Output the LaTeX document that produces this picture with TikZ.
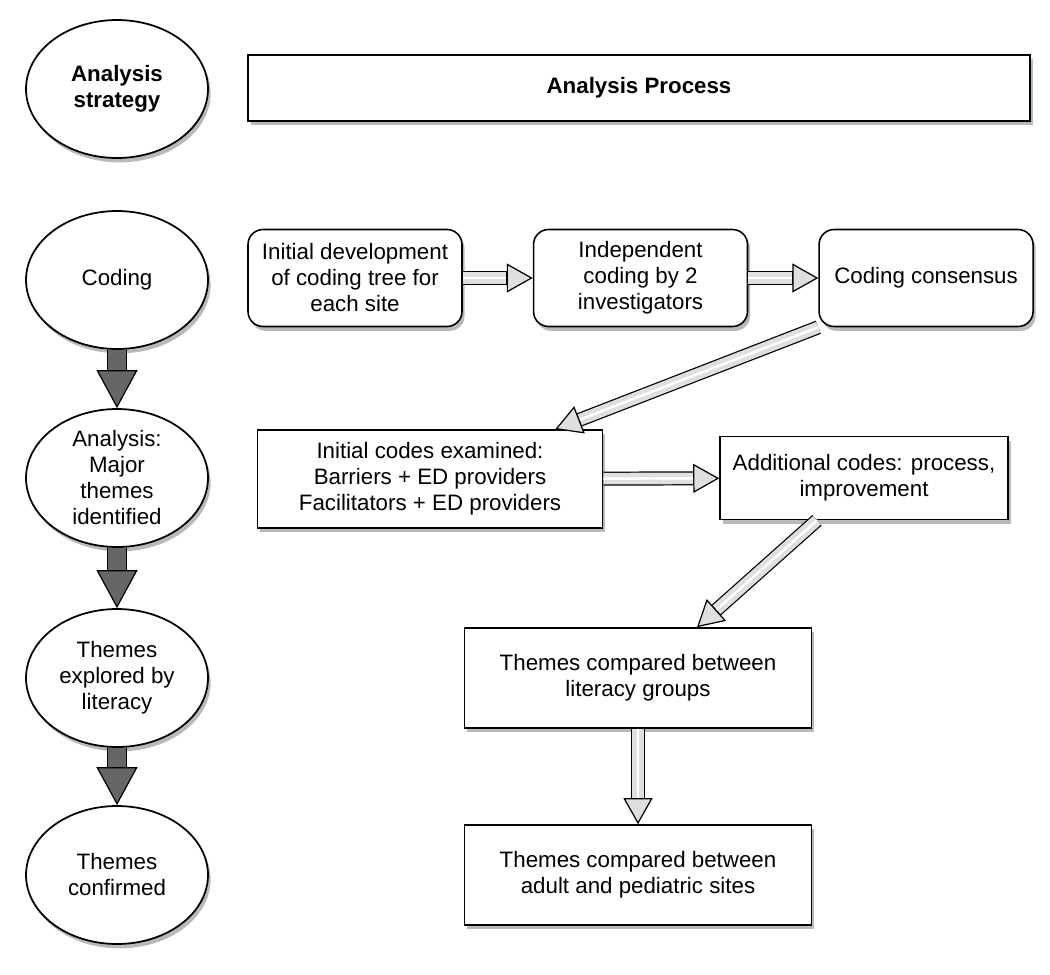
\documentclass[tikz,border=0pt]{standalone}
\usepackage{fontspec}
\setmainfont{Liberation Sans}
\usetikzlibrary{arrows.meta,positioning,shadows,shapes.geometric,calc}

\begin{document}
\begin{tikzpicture}[x=0.02cm, y=-0.02cm,
    every node/.style={font=\fontsize{12.7}{14.8}\selectfont, align=center},
    shadowed/.style={drop shadow={shadow xshift=1.5pt, shadow yshift=-2.5pt, opacity=0.55}},
    phase/.style={ellipse, draw, line width=1pt, fill=white, shadowed, minimum width=3.64cm, minimum height=2.76cm, inner sep=0pt},
    stepbox/.style={rectangle, draw, line width=0.9pt, fill=white, shadowed, minimum width=6.94cm, minimum height=2cm},
    codebox/.style={stepbox, rounded corners=0.3cm, minimum width=4.28cm, minimum height=1.94cm},
    phasearrow/.style={draw=black, line width=11.4pt,
      -{Triangle[width=23.3pt, length=21.6pt, fill=black!60, line width=0.7pt]},
      postaction={draw=black!60, line width=10pt, -, shorten >=21.8pt}},
    flow/.style={draw=black, line width=8pt,
      -{Triangle[width=16.5pt, length=14.8pt, fill=gray!25, line width=0.7pt]},
      postaction={draw=gray!25, line width=6.6pt, -, shorten >=15pt},
      postaction={draw=white, line width=1.4pt, -, shorten >=15pt}}]
  \useasboundingbox (0,0) rectangle (1050,974);

  % strategy column
  \node[phase] (strategy) at (117,89) {\textbf{Analysis}\\\textbf{strategy}};
  \node[phase] (coding) at (117,280) {Coding};
  \node[phase, inner sep=-4pt] (major) at (117,478) {Analysis:\\Major\\themes\\identified};
  \node[phase] (explored) at (117,678) {Themes\\explored by\\literacy};
  \node[phase] (confirmed) at (117,875) {Themes\\confirmed};

  % process column
  \node[stepbox, minimum width=15.64cm, minimum height=1.32cm] (process) at (639,88) {\textbf{Analysis Process}};
  \node[codebox] (tree) at (355,278) {Initial development\\of coding tree for\\each site};
  \node[codebox, right=1.4cm of tree] (independent) {Independent\\coding by 2\\investigators};
  \node[codebox, right=1.4cm of independent] (consensus) {Coding consensus};
  \node[stepbox, minimum width=6.9cm, minimum height=1.96cm] (examined) at (430,479) {Initial codes examined:\\Barriers + ED providers\\Facilitators + ED providers};
  \node[stepbox, minimum width=5.76cm, minimum height=1.66cm] (additional) at (864,478) {Additional codes: process,\\improvement};
  \node[stepbox] (literacy) at (638,678) {Themes compared between\\literacy groups};
  \node[stepbox] (sites) at (638,875) {Themes compared between\\adult and pediatric sites};

  \draw[phasearrow] (coding) -- (major);
  \draw[phasearrow] (major) -- (explored);
  \draw[phasearrow] (explored) -- (confirmed);

  \draw[flow] (tree) -- (independent);
  \draw[flow] (independent) -- (consensus);
  \draw[flow] (consensus.south west) -- ([xshift=-0.96cm]examined.north east);
  \draw[flow] (examined) -- (additional);
  \draw[flow] ([xshift=-0.94cm]additional.south) -- ([xshift=1.18cm]literacy.north);
  \draw[flow] (literacy) -- (sites);
\end{tikzpicture}
\end{document}
